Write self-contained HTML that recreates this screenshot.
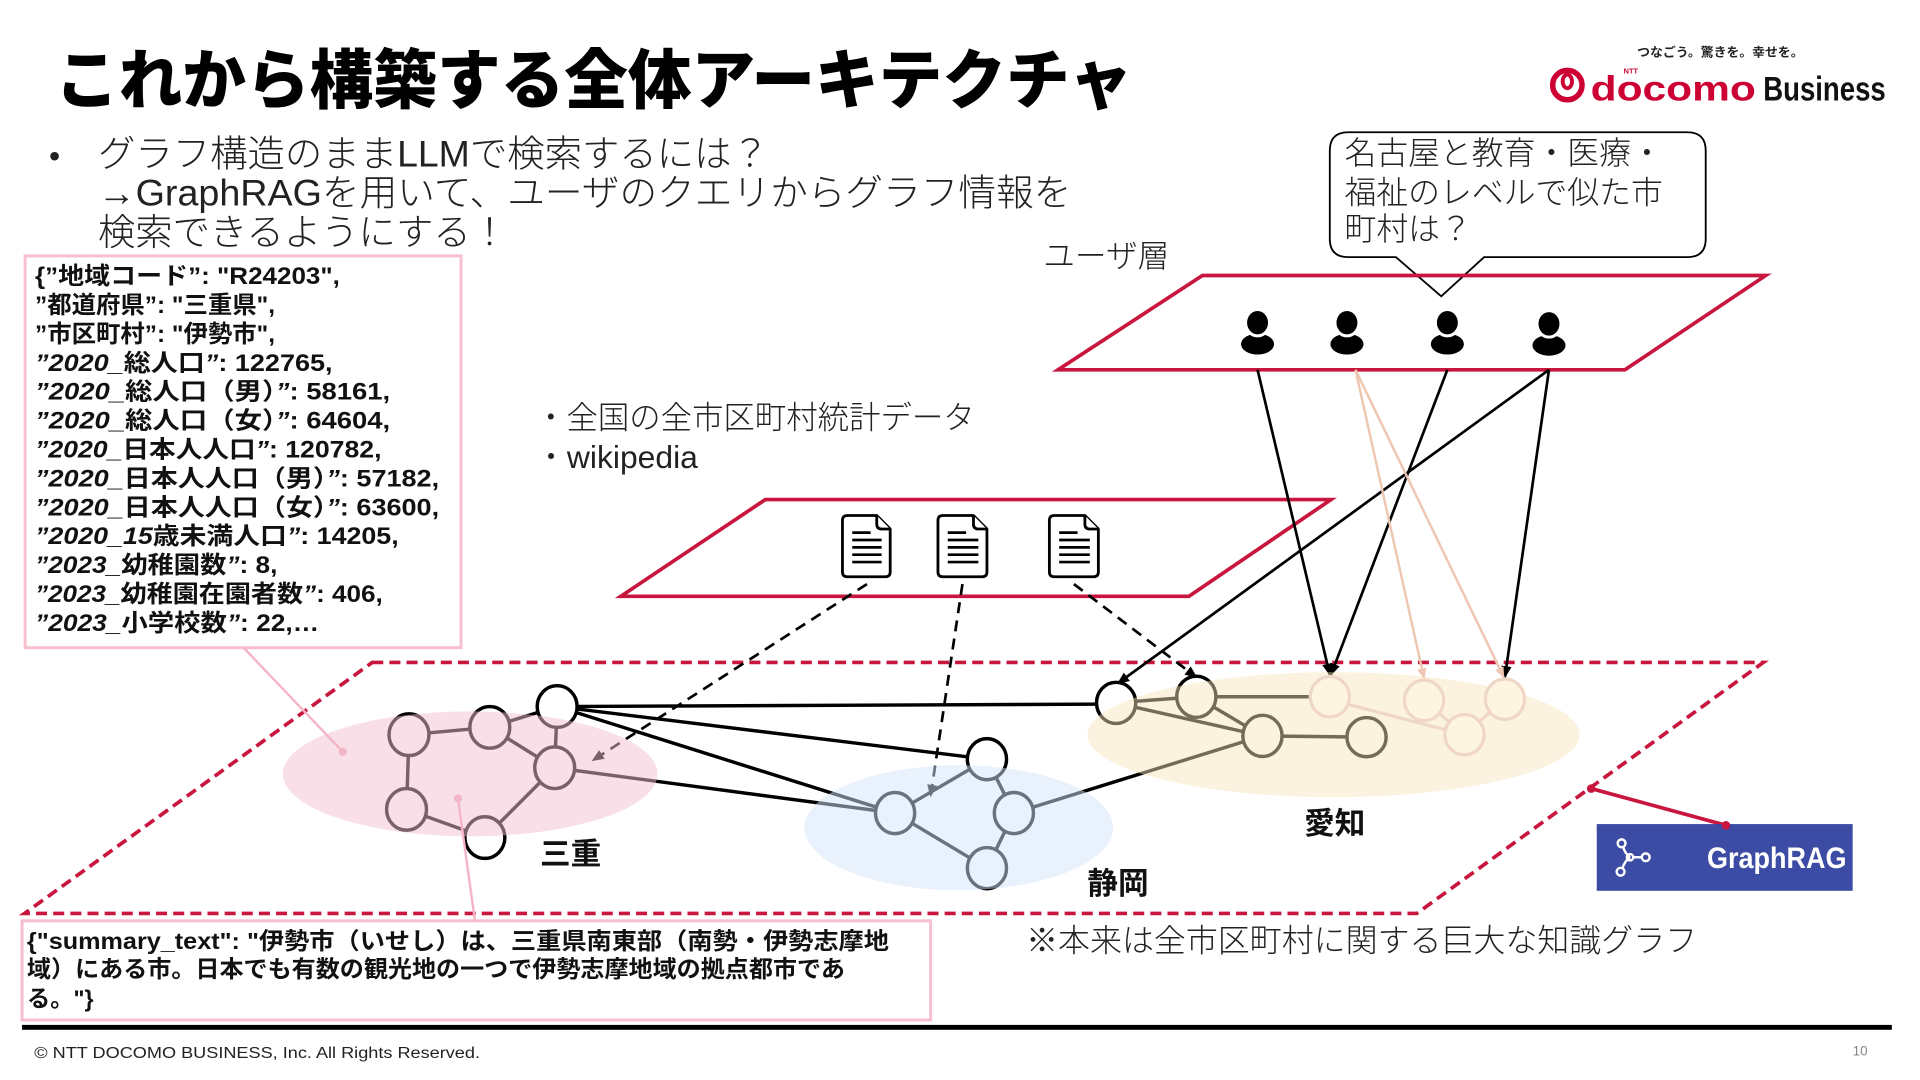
<!DOCTYPE html>
<html><head><meta charset="utf-8">
<style>
html,body{margin:0;padding:0;background:#fff;}
svg{display:block;}
text{font-family:"Liberation Sans","Noto Sans CJK JP",sans-serif;}
</style></head>
<body>
<svg width="1920" height="1080" viewBox="0 0 1568 882" xmlns="http://www.w3.org/2000/svg">
<defs>
<marker id="ab" viewBox="0 0 10 10" refX="9" refY="5" markerWidth="10" markerHeight="10" markerUnits="userSpaceOnUse" orient="auto"><path d="M0,0.8 L10,5 L0,9.2 z" fill="#000"/></marker>
<marker id="af" viewBox="0 0 10 10" refX="9" refY="5" markerWidth="9" markerHeight="9" markerUnits="userSpaceOnUse" orient="auto"><path d="M0,0.8 L10,5 L0,9.2 z" fill="#eec6b2"/></marker>
</defs>

<!-- Title -->
<text x="45" y="84" font-size="53" font-weight="900" textLength="880" lengthAdjust="spacingAndGlyphs" fill="#000">これから構築する全体アーキテクチャ</text>

<!-- Bullets -->
<text x="40" y="136" font-size="26" fill="#222">•</text>
<g font-size="30" font-weight="300" fill="#222">
<text x="80" y="136" textLength="548" lengthAdjust="spacingAndGlyphs">グラフ構造のままLLMで検索するには？</text>
<text x="80" y="168" textLength="795" lengthAdjust="spacingAndGlyphs">→GraphRAGを用いて、ユーザのクエリからグラフ情報を</text>
<text x="80" y="200" textLength="335" lengthAdjust="spacingAndGlyphs">検索できるようにする！</text>
</g>

<!-- Logo -->
<text x="1337" y="46" font-size="10" font-weight="bold" fill="#222" textLength="136" lengthAdjust="spacingAndGlyphs">つなごう。驚きを。幸せを。</text>
<circle cx="1280" cy="69.5" r="12" fill="none" stroke="#cc0033" stroke-width="4.5"/>
<ellipse cx="1280" cy="66.5" rx="3.8" ry="5.5" fill="none" stroke="#cc0033" stroke-width="3.2"/>
<text x="1299" y="82" font-size="29" font-weight="bold" fill="#cc0033" textLength="135" lengthAdjust="spacingAndGlyphs">docomo</text>
<text x="1326" y="60" font-size="6" font-weight="bold" fill="#cc0033">NTT</text>
<text x="1440" y="82" font-size="28" font-weight="bold" fill="#111" textLength="100" lengthAdjust="spacingAndGlyphs">Business</text>

<!-- Speech bubble -->
<path d="M1101,108 H1378 Q1393,108 1393,123 V195 Q1393,210 1378,210 H1212 L1177,242 L1140,210 H1101 Q1086,210 1086,195 V123 Q1086,108 1101,108 Z" fill="#fff" stroke="#000" stroke-width="1.5"/>
<g font-size="26" font-weight="300" fill="#222">
<text x="1098" y="134">名古屋と教育・医療・</text>
<text x="1098" y="166">福祉のレベルで似た市</text>
<text x="1098" y="196">町村は？</text>
</g>
<text x="852" y="218" font-size="26" font-weight="300" fill="#222" textLength="103" lengthAdjust="spacingAndGlyphs">ユーザ層</text>

<!-- User layer -->
<polygon points="982,225 1442,225 1327,302 864,302" fill="none" stroke="#c8163e" stroke-width="3"/>
<g fill="#000" stroke="#fff" stroke-width="2.5">
<ellipse cx="1027" cy="281" rx="13.5" ry="8.5" stroke="none"/>
<ellipse cx="1027" cy="263.5" rx="9.8" ry="10.8"/>
<ellipse cx="1100" cy="281" rx="13.5" ry="8.5" stroke="none"/>
<ellipse cx="1100" cy="263.5" rx="9.8" ry="10.8"/>
<ellipse cx="1182" cy="281" rx="13.5" ry="8.5" stroke="none"/>
<ellipse cx="1182" cy="263.5" rx="9.8" ry="10.8"/>
<ellipse cx="1265" cy="282" rx="13.5" ry="8.5" stroke="none"/>
<ellipse cx="1265" cy="264.5" rx="9.8" ry="10.8"/>
</g>

<!-- Data sources text -->
<g font-size="26" font-weight="300" fill="#222">
<text x="437" y="350" textLength="359" lengthAdjust="spacingAndGlyphs">・全国の全市区町村統計データ</text>
<text x="437" y="382">・wikipedia</text>
</g>

<!-- Data layer -->
<polygon points="625,408 1087,408 971,487 507,487" fill="none" stroke="#c8163e" stroke-width="3"/>
<g fill="#fff" stroke="#000" stroke-width="2.3" stroke-linejoin="round">
<path d="M692,421 H716 L727,432 V467 Q727,471 723,471 H692 Q688,471 688,467 V425 Q688,421 692,421 Z"/>
<path d="M716,421 V428 Q716,432 720,432 H727"/>
<path d="M770,421 H795 L806,432 V467 Q806,471 802,471 H770 Q766,471 766,467 V425 Q766,421 770,421 Z"/>
<path d="M795,421 V428 Q795,432 799,432 H806"/>
<path d="M861,421 H886 L897,432 V467 Q897,471 893,471 H861 Q857,471 857,467 V425 Q857,421 861,421 Z"/>
<path d="M886,421 V428 Q886,432 890,432 H897"/>
</g>
<g stroke="#000" stroke-width="2.2">
<line x1="696" y1="435" x2="711" y2="435"/><line x1="696" y1="441" x2="720" y2="441"/><line x1="696" y1="447" x2="720" y2="447"/><line x1="696" y1="453" x2="720" y2="453"/><line x1="696" y1="459" x2="720" y2="459"/>
<line x1="774" y1="435" x2="789" y2="435"/><line x1="774" y1="441" x2="799" y2="441"/><line x1="774" y1="447" x2="799" y2="447"/><line x1="774" y1="453" x2="799" y2="453"/><line x1="774" y1="459" x2="799" y2="459"/>
<line x1="865" y1="435" x2="880" y2="435"/><line x1="865" y1="441" x2="890" y2="441"/><line x1="865" y1="447" x2="890" y2="447"/><line x1="865" y1="453" x2="890" y2="453"/><line x1="865" y1="459" x2="890" y2="459"/>
</g>

<!-- Graph layer -->
<polygon points="304,541 1440,541 1157,746 20,746" fill="none" stroke="#c8163e" stroke-width="3" stroke-dasharray="9 5"/>

<!-- graph edges -->
<g stroke="#000" stroke-width="2.8" fill="none">
<line x1="334" y1="600" x2="400" y2="594"/>
<line x1="400" y1="594" x2="455" y2="577"/>
<line x1="400" y1="594" x2="453" y2="627"/>
<line x1="455" y1="577" x2="453" y2="627"/>
<line x1="334" y1="600" x2="332" y2="661"/>
<line x1="332" y1="661" x2="396" y2="684"/>
<line x1="396" y1="684" x2="453" y2="627"/>
<line x1="453" y1="627" x2="731" y2="664"/>
<line x1="455" y1="577" x2="731" y2="664"/>
<line x1="455" y1="577" x2="806" y2="620"/>
<line x1="455" y1="577" x2="911" y2="575"/>
<line x1="806" y1="620" x2="731" y2="664"/>
<line x1="806" y1="620" x2="828" y2="664"/>
<line x1="731" y1="664" x2="806" y2="709"/>
<line x1="828" y1="664" x2="806" y2="709"/>
<line x1="828" y1="664" x2="1031" y2="601"/>
<line x1="911" y1="574" x2="977" y2="569"/>
<line x1="911" y1="574" x2="1031" y2="601"/>
<line x1="977" y1="569" x2="1031" y2="601"/>
<line x1="977" y1="569" x2="1070" y2="569"/>
<line x1="1031" y1="601" x2="1116" y2="602"/>
</g>
<g fill="#fff" stroke="#000" stroke-width="2.8">
<ellipse cx="334" cy="600" rx="16.3" ry="17"/>
<ellipse cx="400" cy="594" rx="16.3" ry="17"/>
<ellipse cx="455" cy="577" rx="16.3" ry="17"/>
<ellipse cx="453" cy="627" rx="16.3" ry="17"/>
<ellipse cx="332" cy="661" rx="16.3" ry="17"/>
<ellipse cx="396" cy="684" rx="16.3" ry="17"/>
<ellipse cx="806" cy="620" rx="16" ry="16.8"/>
<ellipse cx="731" cy="664" rx="16" ry="16.8"/>
<ellipse cx="828" cy="664" rx="16" ry="16.8"/>
<ellipse cx="806" cy="709" rx="16" ry="16.8"/>
<ellipse cx="911.5" cy="574" rx="16" ry="16.8"/>
<ellipse cx="977" cy="569" rx="16" ry="16.8"/>
<ellipse cx="1031" cy="601" rx="16" ry="16.8"/>
<ellipse cx="1116" cy="602" rx="16" ry="16"/>
</g>

<!-- arrows -->
<g stroke="#000" stroke-width="2.2" fill="none">
<line x1="1027" y1="302" x2="1086" y2="551" marker-end="url(#ab)"/>
<line x1="1182" y1="302" x2="1087" y2="551" marker-end="url(#ab)"/>
<line x1="1265" y1="302" x2="913" y2="558" marker-end="url(#ab)"/>
<line x1="1265" y1="302" x2="1229" y2="553" marker-end="url(#ab)"/>
</g>
<g stroke="#eec6b2" stroke-width="2" fill="none">
<line x1="1107" y1="302" x2="1163" y2="554" marker-end="url(#af)"/>
<line x1="1107" y1="302" x2="1228" y2="553" marker-end="url(#af)"/>
</g>
<g stroke="#000" stroke-width="2.2" fill="none" stroke-dasharray="9 6">
<line x1="708" y1="477" x2="484" y2="621" marker-end="url(#ab)"/>
<line x1="786" y1="477" x2="760" y2="650" marker-end="url(#ab)"/>
<line x1="877" y1="477" x2="977" y2="553" marker-end="url(#ab)"/>
</g>

<!-- overlays -->
<ellipse cx="384" cy="632" rx="153" ry="51" fill="#f4c0d0" opacity="0.5"/>
<ellipse cx="783" cy="676" rx="126" ry="51" fill="#d2e4fa" opacity="0.5"/>
<ellipse cx="1089" cy="600" rx="201" ry="51" fill="#f7e6bc" opacity="0.47"/>

<!-- faint nodes -->
<g stroke="#f0d6c6" stroke-width="2.6" fill="none">
<line x1="1100" y1="575" x2="1196" y2="600"/>
<line x1="1163" y1="572" x2="1196" y2="600"/>
<line x1="1229" y1="571" x2="1196" y2="600"/>
</g>
<g stroke="#f0d6c6" stroke-width="2.6" fill="#fdf4e2">
<ellipse cx="1086" cy="569" rx="16" ry="16.5"/>
<ellipse cx="1163" cy="572" rx="16" ry="16.5"/>
<ellipse cx="1229" cy="571" rx="16" ry="16.5"/>
<ellipse cx="1196" cy="600" rx="16" ry="16.5"/>
</g>

<!-- region labels -->
<g font-size="25" font-weight="bold" fill="#111">
<text x="441" y="706">三重</text>
<text x="888" y="730">静岡</text>
<text x="1065" y="681">愛知</text>
</g>

<!-- JSON box -->
<rect x="20.5" y="209" width="356" height="320" fill="#fff" stroke="#f6c0ce" stroke-width="2.5"/>
<g font-size="19.5" font-weight="bold" fill="#111">
<text x="28.6" y="232" textLength="249" lengthAdjust="spacingAndGlyphs">{”地域コード”: "R24203",</text>
<text x="28.6" y="255.6" textLength="196" lengthAdjust="spacingAndGlyphs">”都道府県”: "三重県",</text>
<text x="28.6" y="279.2" textLength="196" lengthAdjust="spacingAndGlyphs">”市区町村”: "伊勢市",</text>
<text x="28.6" y="302.8" textLength="243" lengthAdjust="spacingAndGlyphs"><tspan font-style="italic">”2020_</tspan>総人口<tspan font-style="italic">”</tspan>: 122765,</text>
<text x="28.6" y="326.4" textLength="290" lengthAdjust="spacingAndGlyphs"><tspan font-style="italic">”2020_</tspan>総人口（男）<tspan font-style="italic">”</tspan>: 58161,</text>
<text x="28.6" y="350" textLength="290" lengthAdjust="spacingAndGlyphs"><tspan font-style="italic">”2020_</tspan>総人口（女）<tspan font-style="italic">”</tspan>: 64604,</text>
<text x="28.6" y="373.6" textLength="283" lengthAdjust="spacingAndGlyphs"><tspan font-style="italic">”2020_</tspan>日本人人口<tspan font-style="italic">”</tspan>: 120782,</text>
<text x="28.6" y="397.2" textLength="330" lengthAdjust="spacingAndGlyphs"><tspan font-style="italic">”2020_</tspan>日本人人口（男）<tspan font-style="italic">”</tspan>: 57182,</text>
<text x="28.6" y="420.8" textLength="330" lengthAdjust="spacingAndGlyphs"><tspan font-style="italic">”2020_</tspan>日本人人口（女）<tspan font-style="italic">”</tspan>: 63600,</text>
<text x="28.6" y="444.4" textLength="297" lengthAdjust="spacingAndGlyphs"><tspan font-style="italic">”2020_15</tspan>歳未満人口<tspan font-style="italic">”</tspan>: 14205,</text>
<text x="28.6" y="468" textLength="198" lengthAdjust="spacingAndGlyphs"><tspan font-style="italic">”2023_</tspan>幼稚園数<tspan font-style="italic">”</tspan>: 8,</text>
<text x="28.6" y="491.6" textLength="284" lengthAdjust="spacingAndGlyphs"><tspan font-style="italic">”2023_</tspan>幼稚園在園者数<tspan font-style="italic">”</tspan>: 406,</text>
<text x="28.6" y="515.2" textLength="232" lengthAdjust="spacingAndGlyphs"><tspan font-style="italic">”2023_</tspan>小学校数<tspan font-style="italic">”</tspan>: 22,…</text>
</g>

<!-- Summary box -->
<rect x="18" y="752" width="742" height="81" fill="#fff" stroke="#f6c0ce" stroke-width="2.5"/>
<g font-size="19" font-weight="bold" fill="#111">
<text x="22" y="775" textLength="704" lengthAdjust="spacingAndGlyphs">{"summary_text": "伊勢市（いせし）は、三重県南東部（南勢・伊勢志摩地</text>
<text x="22" y="798" textLength="668" lengthAdjust="spacingAndGlyphs">域）にある市。日本でも有数の観光地の一つで伊勢志摩地域の拠点都市であ</text>
<text x="22" y="822">る。"}</text>
</g>

<!-- pink connectors -->
<g stroke="#f4b6c6" stroke-width="2" fill="#f4b6c6">
<line x1="199" y1="529" x2="280" y2="614"/>
<circle cx="280" cy="614" r="3.3" stroke="none"/>
<line x1="374" y1="652" x2="388" y2="753"/>
<circle cx="374" cy="652" r="3.3" stroke="none"/>
</g>

<!-- note -->
<text x="838" y="777" font-size="26" font-weight="300" fill="#222" textLength="548" lengthAdjust="spacingAndGlyphs">※本来は全市区町村に関する巨大な知識グラフ</text>

<!-- GraphRAG badge -->
<line x1="1299.5" y1="644" x2="1409.5" y2="674" stroke="#c8163e" stroke-width="3"/>
<rect x="1304" y="673" width="209" height="54.5" fill="#3c4ba3"/>
<circle cx="1299.5" cy="644" r="3.5" fill="#c8163e"/>
<circle cx="1409.5" cy="674" r="3.5" fill="#c8163e"/>
<g stroke="#fff" stroke-width="2" fill="none">
<path d="M1325.5,691.5 Q1327,697 1331.2,700.1"/>
<path d="M1325,709 Q1327,703 1331.2,700.1"/>
<line x1="1334.5" y1="700.1" x2="1340.5" y2="700.1"/>
<circle cx="1324.3" cy="688.7" r="3.2"/>
<circle cx="1344" cy="700.1" r="3.2"/>
<circle cx="1323.5" cy="711.9" r="3.2"/>
<circle cx="1331.2" cy="700.1" r="2.6"/>
</g>
<text x="1394" y="709" font-size="24" font-weight="bold" fill="#fff" textLength="114" lengthAdjust="spacingAndGlyphs">GraphRAG</text>

<!-- footer -->
<rect x="18" y="837" width="1527" height="4" fill="#000"/>
<text x="28" y="864" font-size="13" fill="#222" textLength="364" lengthAdjust="spacingAndGlyphs">© NTT DOCOMO BUSINESS, Inc. All Rights Reserved.</text>
<text x="1513" y="862" font-size="11" fill="#888">10</text>
</svg>
</body></html>
